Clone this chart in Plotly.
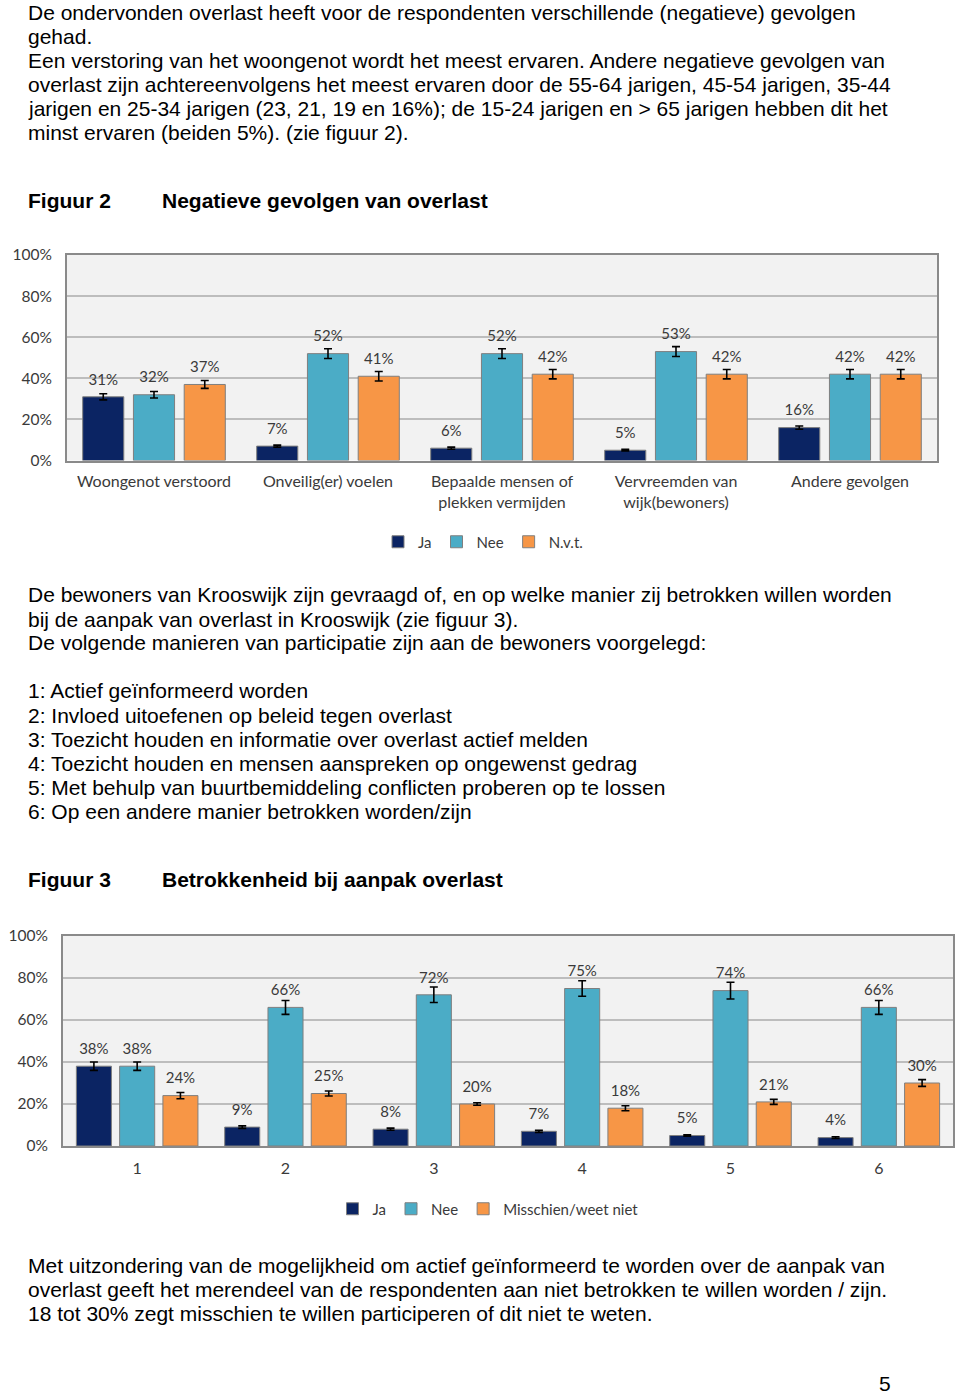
import plotly.graph_objects as go

W, H = 960, 1394

# ---------- Figure 2 data ----------
cats1 = ["Woongenot verstoord", "Onveilig(er) voelen", "Bepaalde mensen of<br>plekken vermijden",
         "Vervreemden van<br>wijk(bewoners)", "Andere gevolgen"]
ja1 = [31, 7, 6, 5, 16]
nee1 = [32, 52, 52, 53, 42]
nvt1 = [37, 41, 42, 42, 42]
ja1_err = [1.5, 0.5, 0.5, 0.4, 0.8]
nee1_err = [1.6, 2.4, 2.4, 2.4, 2.3]
nvt1_err = [1.9, 2.3, 2.3, 2.3, 2.3]
names1 = ["Ja", "Nee", "N.v.t."]

# ---------- Figure 3 data ----------
cats2 = ["1", "2", "3", "4", "5", "6"]
ja2 = [38, 9, 8, 7, 5, 4]
nee2 = [38, 66, 72, 75, 74, 66]
mis2 = [24, 25, 20, 18, 21, 30]
ja2_err = [2.0, 0.6, 0.5, 0.5, 0.3, 0.4]
nee2_err = [2.0, 3.3, 3.7, 3.7, 4.0, 3.3]
mis2_err = [1.5, 1.2, 0.6, 1.2, 1.2, 1.6]
names2 = ["Ja", "Nee", "Misschien/weet niet"]

yticks = [0, 20, 40, 60, 80, 100]
yticklabels = ["0%", "20%", "40%", "60%", "80%", "100%"]

colors = ["#0b2463", "#4bacc6", "#f79646"]

# ---------- page text ----------
text_top = [
    "De ondervonden overlast heeft voor de respondenten verschillende (negatieve) gevolgen",
    "gehad.",
    "Een verstoring van het woongenot wordt het meest ervaren. Andere negatieve gevolgen van",
    "overlast zijn achtereenvolgens het meest ervaren door de 55-64 jarigen, 45-54 jarigen, 35-44",
    "jarigen en 25-34 jarigen (23, 21, 19 en 16%); de 15-24 jarigen en > 65 jarigen hebben dit het",
    "minst ervaren (beiden 5%). (zie figuur 2).",
]
text_mid = [
    "De bewoners van Krooswijk zijn gevraagd of, en op welke manier zij betrokken willen worden",
    "bij de aanpak van overlast in Krooswijk (zie figuur 3).",
    "De volgende manieren van participatie zijn aan de bewoners voorgelegd:",
]
text_list = [
    "1: Actief geïnformeerd worden",
    "2: Invloed uitoefenen op beleid tegen overlast",
    "3: Toezicht houden en informatie over overlast actief melden",
    "4: Toezicht houden en mensen aanspreken op ongewenst gedrag",
    "5: Met behulp van buurtbemiddeling conflicten proberen op te lossen",
    "6: Op een andere manier betrokken worden/zijn",
]
text_end = [
    "Met uitzondering van de mogelijkheid om actief geïnformeerd te worden over de aanpak van",
    "overlast geeft het merendeel van de respondenten aan niet betrokken te willen worden / zijn.",
    "18 tot 30% zegt misschien te willen participeren of dit niet te weten.",
]
fig2_label, fig2_title = "Figuur 2", "Negatieve gevolgen van overlast"
fig3_label, fig3_title = "Figuur 3", "Betrokkenheid bij aanpak overlast"
page_no = "5"

CH_FONT = "Lato"
TXT_FONT = "Liberation Sans, Arial"
GREY_TXT = "#3a3a3a"

fig = go.Figure()


def add_chart(cats, series, errs, names, xa, ya, leg):
    for vals, er, nm, col in zip(series, errs, names, colors):
        fig.add_trace(go.Bar(
            x=cats, y=vals, name=nm, xaxis=xa, yaxis=ya, legend=leg,
            marker=dict(color=col, line=dict(color="#7f7f7f", width=1)),
            error_y=dict(type="data", array=er, color="black", thickness=1.6, width=4),
            hoverinfo="skip",
        ))
    for vals, nm in zip(series, names):
        fig.add_trace(go.Scatter(
            x=cats, y=vals, mode="markers+text", xaxis=xa, yaxis=ya,
            text=[f"{v}%" for v in vals], textposition="top center",
            textfont=dict(family=CH_FONT, size=15, color=GREY_TXT),
            marker=dict(size=12, color="rgba(0,0,0,0)"),
            showlegend=False, hoverinfo="skip", cliponaxis=False,
        ))


add_chart(cats1, [ja1, nee1, nvt1], [ja1_err, nee1_err, nvt1_err], names1, "x", "y", "legend")
add_chart(cats2, [ja2, nee2, mis2], [ja2_err, nee2_err, mis2_err], names2, "x2", "y2", "legend2")


def py(p):
    return 1 - p / H


ann = []


def line(txt, x, y, size=21, bold=False):
    ann.append(dict(text=f"<b>{txt}</b>" if bold else txt, x=x / W, y=py(y), xref="paper", yref="paper",
                    xanchor="left", yanchor="middle", showarrow=False, borderpad=0, borderwidth=0,
                    font=dict(family=TXT_FONT, size=size, color="black")))


for i, t in enumerate(text_top):
    line(t, 28, 12 + 24 * i)
line(fig2_label, 28, 201, bold=True)
line(fig2_title, 162, 201, bold=True)
for i, t in enumerate(text_mid):
    line(t, 28, 595 + 24 * i)
for i, t in enumerate(text_list):
    line(t, 28, 691 + 24 * i)
line(fig3_label, 28, 880, bold=True)
line(fig3_title, 162, 880, bold=True)
for i, t in enumerate(text_end):
    line(t, 28, 1265 + 24 * i)
line(page_no, 879, 1383)

axis_common = dict(showline=True, mirror=True, linecolor="#8a8a8a", linewidth=2,
                   fixedrange=True)
yaxis_common = dict(axis_common, range=[0, 100], tickmode="array", tickvals=yticks, ticktext=yticklabels,
                    showgrid=True, gridcolor="#bdbdbd", gridwidth=1.5, zeroline=False,
                    ticks="outside", ticklen=0, ticklabelstandoff=10,
                    tickfont=dict(family=CH_FONT, size=15.5, color=GREY_TXT))
xtickfont = dict(family=CH_FONT, size=16, color=GREY_TXT)

fig.update_layout(
    width=W, height=H, margin=dict(l=0, r=0, t=0, b=0, autoexpand=False),
    paper_bgcolor="white", plot_bgcolor="#f2f2f2",
    barmode="group", bargap=0.125, bargroupgap=0.19,
    scattermode="group", scattergap=0.125,
    xaxis=dict(axis_common, domain=[67 / W, 937 / W], anchor="y", showgrid=False,
               ticks="outside", ticklen=0, ticklabelstandoff=5, tickfont=xtickfont),
    yaxis=dict(yaxis_common, domain=[py(460.5), py(255)], anchor="x"),
    xaxis2=dict(axis_common, domain=[63 / W, 953 / W], anchor="y2", showgrid=False,
                ticks="outside", ticklen=0, ticklabelstandoff=7, tickfont=xtickfont),
    yaxis2=dict(yaxis_common, domain=[py(1146), py(936)], anchor="x2"),
    legend=dict(orientation="h", x=483 / W, y=py(542), xanchor="center", yanchor="middle",
                font=dict(family=CH_FONT, size=15, color=GREY_TXT), itemwidth=30,
                bgcolor="rgba(0,0,0,0)"),
    legend2=dict(orientation="h", x=488 / W, y=py(1209), xanchor="center", yanchor="middle",
                 font=dict(family=CH_FONT, size=15, color=GREY_TXT), itemwidth=30,
                 bgcolor="rgba(0,0,0,0)"),
    annotations=ann,
    showlegend=True,
)

fig.write_html("out.html")
